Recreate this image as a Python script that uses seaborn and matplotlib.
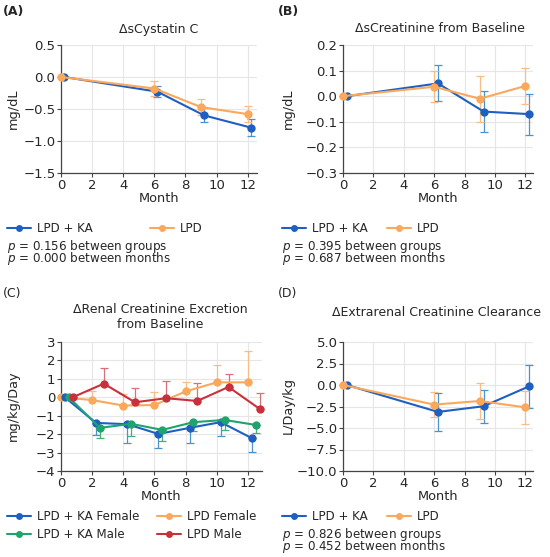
import numpy as np
import pandas as pd
import matplotlib
matplotlib.use('Agg')
import matplotlib.pyplot as plt
from matplotlib.lines import Line2D
import seaborn as sns

# dados (média e erro padrão)
months = [0, 6, 9, 12]

cys_ka = [0, -0.23, -0.60, -0.79]
cys_ka_se = [0, 0.09, 0.11, 0.13]
cys_lpd = [0, -0.18, -0.47, -0.58]
cys_lpd_se = [0, 0.11, 0.12, 0.13]

scr_ka = [0, 0.05, -0.06, -0.07]
scr_ka_se = [0, 0.07, 0.08, 0.08]
scr_lpd = [0, 0.037, -0.01, 0.04]
scr_lpd_se = [0, 0.06, 0.09, 0.07]

ecc_ka = [0, -3.13, -2.47, -0.15]
ecc_ka_se = [0, 2.2, 1.9, 2.5]
ecc_lpd = [0, -2.28, -1.86, -2.6]
ecc_lpd_se = [0, 1.45, 2.05, 1.9]

months_c = [0, 2, 4, 6, 8, 10, 12]
rce_ka_f = [0, -1.39, -1.46, -1.99, -1.66, -1.35, -2.22]
rce_ka_f_se = [0, 0.65, 1.03, 0.75, 0.83, 0.76, 0.74]
rce_ka_m = [0, -1.66, -1.44, -1.77, -1.35, -1.23, -1.50]
rce_ka_m_se = [0, 0.54, 0.65, 0.58, 0.49, 0.54, 0.43]
rce_lpd_f = [0, -0.15, -0.45, -0.42, 0.32, 0.81, 0.81]
rce_lpd_f_se = [0, 0.5, 0.65, 0.72, 0.53, 0.94, 1.72]
rce_lpd_m = [0, 0.74, -0.27, -0.05, -0.20, 0.56, -0.63]
rce_lpd_m_se = [0, 0.83, 0.77, 0.95, 1.0, 0.72, 0.85]

BLUE = '#1f5fc0'
ORANGE = '#f9a85c'
GREEN = '#1ea46c'
RED = '#c8303c'
ERR = {BLUE: '#4b93cf', ORANGE: '#f7bd86', GREEN: '#3fb07e', RED: '#d8707a'}

FS = 9      # ticks / eixos
FL = 8.6    # legenda / p
FT = 9      # títulos

sns.set_style('white')
plt.rcParams['font.family'] = ['DejaVu Sans']
plt.rcParams['mathtext.fontset'] = 'dejavusans'

fig = plt.figure(figsize=(5.5, 5.57), dpi=100)
W, H = 550, 557


def axes_px(x0, y0, x1, y1):
    return fig.add_axes([x0 / W, 1 - y1 / H, (x1 - x0) / W, (y1 - y0) / H])


def draw(ax, series, ylim, yticks, xmax):
    rows = []
    for name, xs, ys, se, off, col, side in series:
        for x, y, e in zip(xs, ys, se):
            rows.append({'x': x + off, 'y': y, 'se': e, 'g': name})
    df = pd.DataFrame(rows)
    pal = {s[0]: s[5] for s in series}
    for name, xs, ys, se, off, col, side in series:
        d = df[df.g == name]
        if side == 'up':
            yerr = [np.zeros(len(d)), d.se]
        elif side == 'down':
            yerr = [d.se, np.zeros(len(d))]
        else:
            yerr = d.se
        ax.errorbar(d.x, d.y, yerr=yerr, fmt='none', ecolor=ERR[col],
                    elinewidth=0.9, capsize=3, capthick=0.9, zorder=2, clip_on=False)
    sns.lineplot(data=df, x='x', y='y', hue='g', palette=pal, marker='o',
                 markersize=6, markeredgewidth=0, linewidth=1.5, ax=ax,
                 legend=False, zorder=3, clip_on=False)
    ax.set_xlim(0, xmax)
    ax.set_xticks(range(0, 13, 2))
    ax.set_ylim(*ylim)
    ax.set_yticks(yticks)
    ax.grid(True, color='#e6e6e6', linewidth=0.8)
    for s in ['top', 'right']:
        ax.spines[s].set_visible(False)
    for s in ['left', 'bottom']:
        ax.spines[s].set_color('#444444')
        ax.spines[s].set_linewidth(0.9)
    ax.tick_params(axis='both', labelsize=FS + 0.5, length=3, width=0.8,
                   color='#444444', pad=1, left=True, bottom=True)
    ax.set_xlabel('Month', fontsize=FS + 0.3, labelpad=0)
    ax.set_ylabel('')


def legend(ax, items, x, y, colsp):
    hs = [Line2D([], [], color=c, marker='o', markersize=5, markeredgewidth=0,
                 linewidth=1.5) for c in items.values()]
    ax.legend(hs, list(items.keys()), loc='upper left', bbox_to_anchor=(x / W, 1 - y / H),
              bbox_transform=fig.transFigure, ncol=2, frameon=False, fontsize=FL,
              handlelength=2.0, handletextpad=0.5, columnspacing=colsp,
              labelspacing=0.45, borderaxespad=0, borderpad=0)


def ptext(x, y, a, b):
    # y = centro da primeira linha
    fig.text(x / W, 1 - (y - 7) / H,
             '$p$ = %s between groups\n$p$ = %s between months' % (a, b),
             fontsize=FL, va='top', linespacing=0.62)


# (A)
axA = axes_px(61, 45, 257, 173)
draw(axA, [('LPD + KA', months, cys_ka, cys_ka_se, 0.2, BLUE, 'both'),
           ('LPD', months, cys_lpd, cys_lpd_se, 0, ORANGE, 'both')],
     (-1.5, 0.5), np.arange(-1.5, 0.51, 0.5), 12.6)
axA.set_yticklabels(['−1.5', '−1.0', '−0.5', '0.0', '0.5'])
fig.text(3 / W, 1 - 12 / H, '(A)', fontsize=FT, fontweight='bold', va='center')
fig.text(159 / W, 1 - 29 / H, 'ΔsCystatin C', fontsize=FT, ha='center', va='center')
fig.text(13 / W, 1 - 109 / H, 'mg/dL', fontsize=FS + 0.3, rotation=90, ha='center', va='center')
legend(axA, {'LPD + KA': BLUE, 'LPD': ORANGE}, 7, 222, 4.8)
ptext(7, 245, '0.156', '0.000')

# (B)
axB = axes_px(343, 45, 533, 173)
draw(axB, [('LPD + KA', months, scr_ka, scr_ka_se, 0.25, BLUE, 'both'),
           ('LPD', months, scr_lpd, scr_lpd_se, 0, ORANGE, 'both')],
     (-0.3, 0.2), np.arange(-0.3, 0.21, 0.1), 12.5)
axB.set_yticklabels(['−0.3', '−0.2', '−0.1', '0.0', '0.1', '0.2'])
fig.text(278 / W, 1 - 12 / H, '(B)', fontsize=FT, fontweight='bold', va='center')
fig.text(440 / W, 1 - 29 / H, 'ΔsCreatinine from Baseline', fontsize=FT, ha='center', va='center')
fig.text(288 / W, 1 - 109 / H, 'mg/dL', fontsize=FS + 0.3, rotation=90, ha='center', va='center')
legend(axB, {'LPD + KA': BLUE, 'LPD': ORANGE}, 282, 222, 1.6)
ptext(282, 245, '0.395', '0.687')

# (C)
axC = axes_px(61, 342, 262, 471)
draw(axC, [('LPD Female', months_c, rce_lpd_f, rce_lpd_f_se, 0, ORANGE, 'up'),
           ('LPD + KA Female', months_c, rce_ka_f, rce_ka_f_se, 0.25, BLUE, 'down'),
           ('LPD + KA Male', months_c, rce_ka_m, rce_ka_m_se, 0.5, GREEN, 'down'),
           ('LPD Male', months_c, rce_lpd_m, rce_lpd_m_se, 0.75, RED, 'up')],
     (-4, 3), range(-4, 4), 12.9)
axC.set_yticklabels(['−4', '−3', '−2', '−1', '0', '1', '2', '3'])
fig.text(3 / W, 1 - 293 / H, '(C)', fontsize=FT, va='center')
fig.text(160 / W, 1 - 317 / H, 'ΔRenal Creatinine Excretion\nfrom Baseline', fontsize=FT,
         ha='center', va='center', linespacing=1.2)
fig.text(13 / W, 1 - 406 / H, 'mg/kg/Day', fontsize=FS + 0.3, rotation=90, ha='center', va='center')
legend(axC, {'LPD + KA Female': BLUE, 'LPD + KA Male': GREEN,
             'LPD Female': ORANGE, 'LPD Male': RED}, 7, 510, 1.5)

# (D)
axD = axes_px(343, 342, 533, 471)
draw(axD, [('LPD + KA', months, ecc_ka, ecc_ka_se, 0.25, BLUE, 'both'),
           ('LPD', months, ecc_lpd, ecc_lpd_se, 0, ORANGE, 'both')],
     (-10, 5), np.arange(-10, 5.1, 2.5), 12.5)
axD.set_yticklabels(['−10.0', '−7.5', '−5.0', '−2.5', '0.0', '2.5', '5.0'])
fig.text(278 / W, 1 - 293 / H, '(D)', fontsize=FT, va='center')
fig.text(437 / W, 1 - 312 / H, 'ΔExtrarenal Creatinine Clearance', fontsize=FT,
         ha='center', va='center')
fig.text(288 / W, 1 - 406 / H, 'L/Day/kg', fontsize=FS + 0.3, rotation=90, ha='center', va='center')
legend(axD, {'LPD + KA': BLUE, 'LPD': ORANGE}, 282, 510, 1.6)
ptext(282, 533, '0.826', '0.452')

fig.savefig('out.png', dpi=100)
